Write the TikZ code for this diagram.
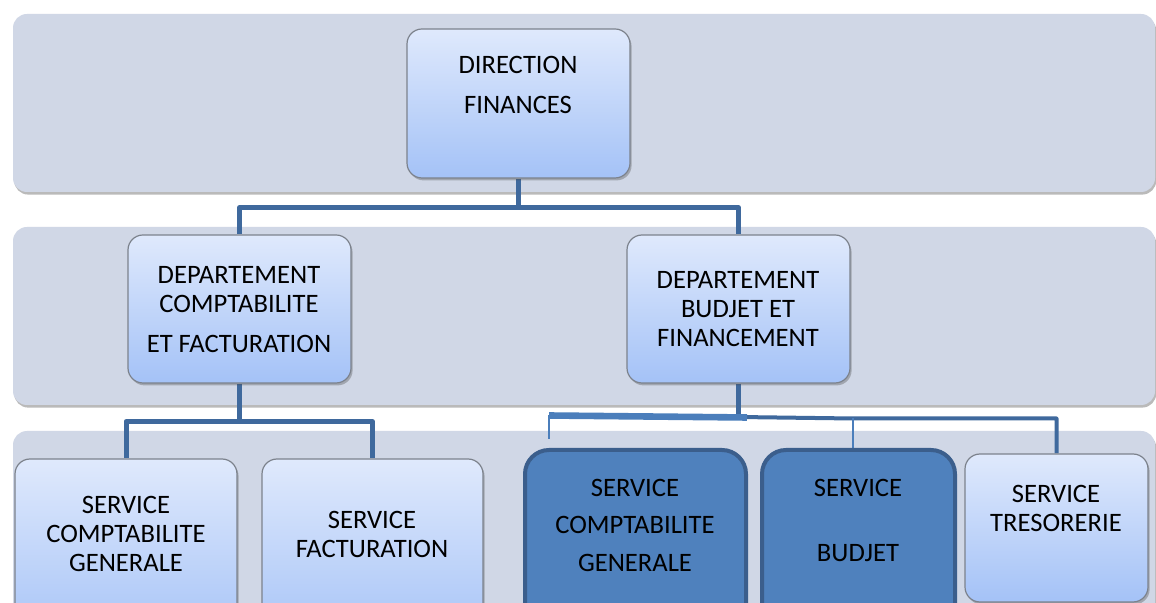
\documentclass[tikz,border=0pt]{standalone}
\usepackage{fontspec}
\setmainfont{Carlito}
\usetikzlibrary{shadows}

\definecolor{bandfill}{HTML}{D0D7E6}
\definecolor{boxtop}{HTML}{DFE9FC}
\definecolor{boxbot}{HTML}{A4C2F7}
\definecolor{boxline}{HTML}{7C828C}
\definecolor{darkfill}{HTML}{4F81BD}
\definecolor{darkline}{HTML}{3B5E8C}
\definecolor{connblue}{HTML}{3F699D}
\definecolor{barblue}{HTML}{4B7EBB}

\pgfdeclarelayer{bands}
\pgfdeclarelayer{links}
\pgfsetlayers{bands,links,main}

\begin{document}
\begin{tikzpicture}[x=0.5pt,y=-0.5pt,
  every node/.style={font=\fontsize{13.3pt}{14.5pt}\selectfont},
  band/.style={fill=bandfill, rounded corners=7pt, minimum width=571pt,
    minimum height=89pt, inner sep=0pt,
    drop shadow={shadow xshift=0.6pt, shadow yshift=-1.3pt, opacity=0.45, fill=black!60}},
  lightbox/.style={draw=boxline, line width=0.6pt, top color=boxtop, bottom color=boxbot,
    rounded corners=7.5pt, inner sep=0pt,
    drop shadow={shadow xshift=0.8pt, shadow yshift=-1.2pt, opacity=0.35, fill=black!70}},
  darkbox/.style={draw=darkline, line width=2pt, fill=darkfill,
    rounded corners=12pt, inner sep=0pt},
  label/.style={anchor=north, inner sep=0pt, align=center, text=black},
  link/.style={draw=connblue, line width=2.5pt, line join=round},
  bar/.style={draw=barblue, line width=3.3pt},
  tick/.style={draw=barblue, line width=1.1pt},
  sidelink/.style={draw=connblue, line width=2pt, line join=round}
]
\useasboundingbox (0,0) rectangle (1156,603);
\clip (0,0) rectangle (1156,603);

% background bands
\begin{pgfonlayer}{bands}
\fill[white] (0,0) rectangle (1156,603);
\node[band] (band1) at (584,103) {};
\node[band] (band2) at (584,316) {};
\node[band, minimum height=110pt] (band3) at (584,541) {};
\end{pgfonlayer}

% boxes
\node[lightbox, minimum width=111.5pt, minimum height=74.5pt] (dir)   at (518.5,103.5) {};
\node[lightbox, minimum width=111.5pt, minimum height=74pt]   (deptL) at (239.5,309) {};
\node[lightbox, minimum width=111.5pt, minimum height=74pt]   (deptR) at (738.5,309) {};
\node[lightbox, minimum width=111pt,   minimum height=95.5pt] (svcCG) at (126,554.5) {};
\node[lightbox, minimum width=110.5pt, minimum height=95.5pt] (svcF)  at (372.5,554.5) {};
\node[darkbox,  minimum width=110.5pt, minimum height=105pt]  (darkCG) at (635.5,555) {};
\node[darkbox,  minimum width=96.5pt,  minimum height=105pt]  (darkB)  at (858.5,555) {};
\node[lightbox, minimum width=91.5pt,  minimum height=74pt]   (tres)  at (1056.5,528) {};

% connectors, drawn beneath the boxes
\begin{pgfonlayer}{links}
\draw[link] (dir.south) -- ++(0,29) -| (deptL.north);
\draw[link] (dir.south) -- ++(0,29) -| (deptR.north);
\draw[link] (deptL.south) -- ++(0,38) -| (svcCG.north);
\draw[link] (deptL.south) -- ++(0,38) -| (svcF.north);

\coordinate (jR) at (deptR.south |- 0,417);
\coordinate (barL) at (549,415.5);
\coordinate (barR) at (747,417.5);
\coordinate (stubL) at (549,439);
\coordinate (tapB) at (853,418.5);
\draw[link] (deptR.south) -- (jR);
\draw[sidelink] (jR) -- (tapB) -| (tres.north);
\draw[bar] (barL) -- (barR);
\draw[tick] (barL) -- (stubL);
\draw[tick] (tapB) -- (tapB |- darkB.north);
\end{pgfonlayer}

% labels
\node[label] (tDir)   at (518,55.6)  {DIRECTION\\[5.5pt]FINANCES};
\node[label] (tDeptL) at (239,265.6) {DEPARTEMENT\\COMPTABILITE\\[5.5pt]ET FACTURATION};
\node[label] (tDeptR) at (738,270.6) {DEPARTEMENT\\BUDJET ET\\FINANCEMENT};
\node[label] (tSvcCG) at (126,495.6) {SERVICE\\COMPTABILITE\\GENERALE};
\node[label] (tSvcF)  at (372,510.6) {SERVICE\\FACTURATION};
\node[label] (tDarkCG) at (635,478.6) {SERVICE\\[4.25pt]COMPTABILITE\\[4.25pt]GENERALE};
\node[label] (tDarkB)  at (858,478.6) {SERVICE\\[18pt]BUDJET};
\node[label] (tTres)   at (1056,484.6) {SERVICE\\TRESORERIE};
\end{tikzpicture}
\end{document}
